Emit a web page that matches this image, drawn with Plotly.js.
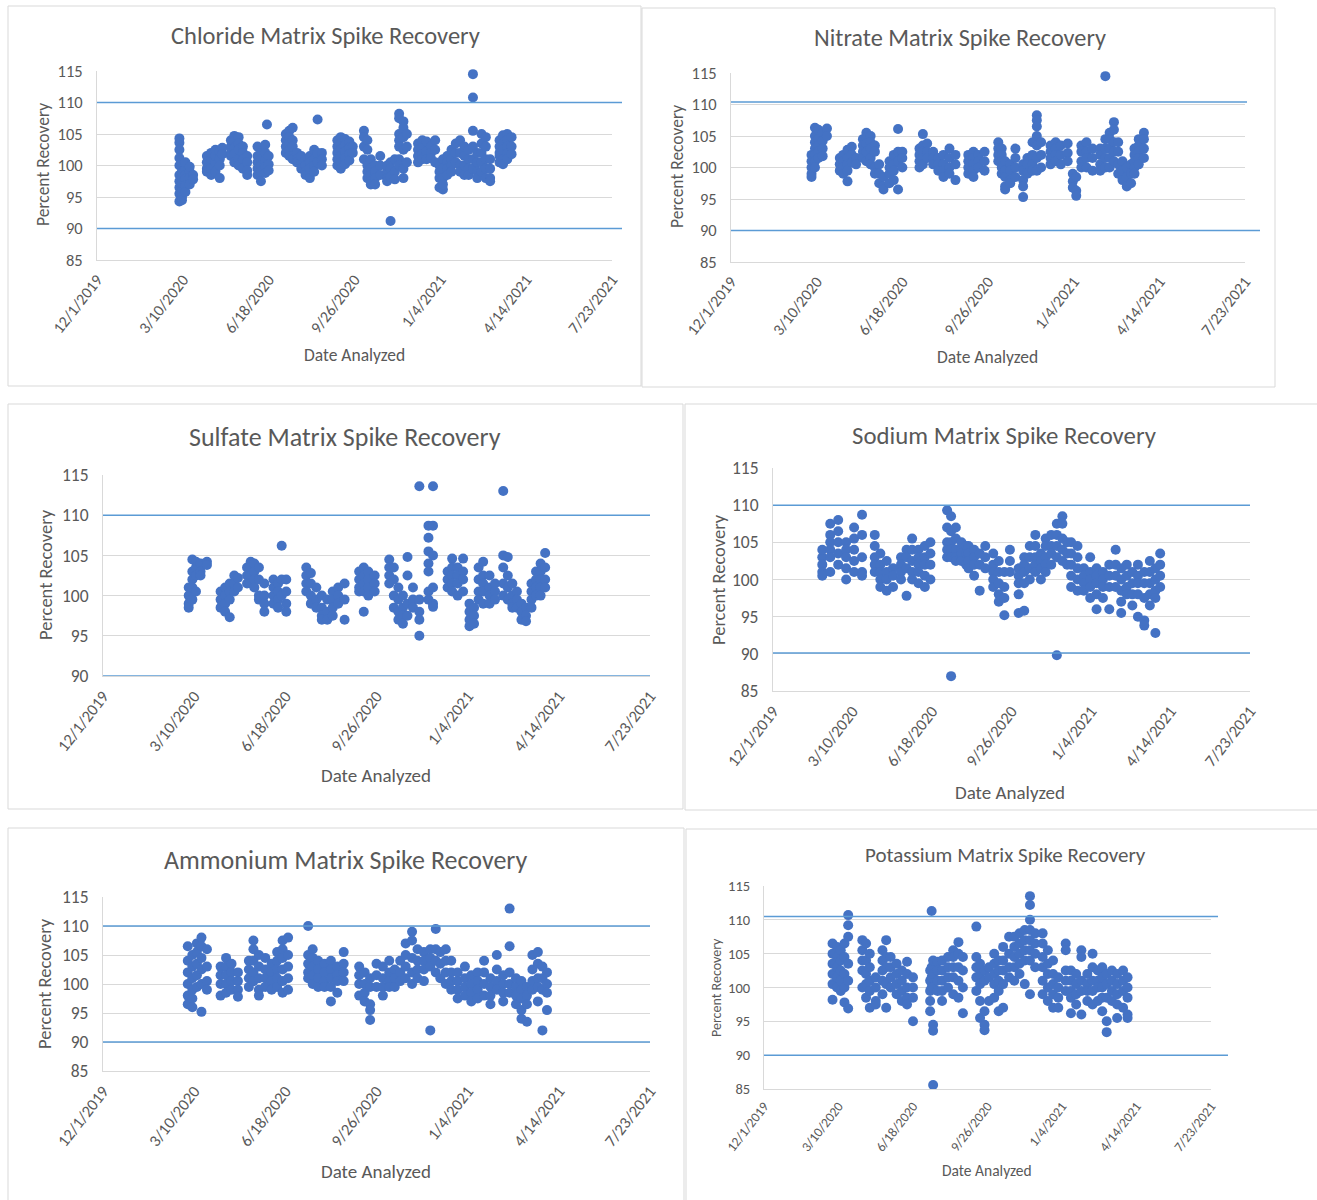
<!DOCTYPE html>
<html><head><meta charset="utf-8">
<script src="https://cdn.plot.ly/plotly-3.0.1.min.js"></script>
<style>html,body{margin:0;padding:0;background:#fff}#chart{width:1317px;height:1200px}</style>
</head><body><div id="chart"></div>
<script>
const tickDates = ['2019-12-01','2020-03-10','2020-06-18','2020-09-26','2021-01-04','2021-04-14','2021-07-23'];
const tickLabels = ['12/1/2019','3/10/2020','6/18/2020','9/26/2020','1/4/2021','4/14/2021','7/23/2021'];

const chlorideDates = ['2020-03-06','2020-03-09','2020-03-13','2020-03-18','2020-03-22','2020-04-07','2020-04-12','2020-04-17','2020-04-22','2020-04-25','2020-05-05','2020-05-09','2020-05-14','2020-05-19','2020-05-24','2020-06-05','2020-06-09','2020-06-14','2020-06-16','2020-06-18','2020-07-08','2020-07-12','2020-07-16','2020-07-21','2020-07-26','2020-07-31','2020-08-05','2020-08-10','2020-08-14','2020-08-19','2020-09-06','2020-09-10','2020-09-15','2020-09-20','2020-09-24','2020-10-07','2020-10-11','2020-10-15','2020-10-20','2020-10-26','2020-11-03','2020-11-07','2020-11-12','2020-11-17','2020-11-22','2020-11-26','2020-12-09','2020-12-14','2020-12-19','2020-12-24','2020-12-29','2021-01-03','2021-01-07','2021-01-12','2021-01-17','2021-01-22','2021-01-27','2021-02-01','2021-02-06','2021-02-11','2021-02-16','2021-02-21','2021-02-26','2021-03-03','2021-03-14','2021-03-18','2021-03-23','2021-03-28'];
const chlorideValues = [[104.3,103.6,102.5,101.2,100,98.5,97.5,96.5,95.5,94.3],[99,98,97,96,95,94.5,97.2,98.8],[99.5,98.5,97.8,96.8,95.8,100.5],[99,98,97,99.8],[98.5,97.8],[99.5,100.5,101.5,99],[100,101,102,98.5,99.5],[100.5,101.5,102.5,99],[101,102.3,100,98],[102.8,101.8],[103,104,102,101.5],[104.7,103.8,102.8,101.8,100.5],[104.5,103.5,102.5,101,100],[103,102,101,99.5],[101.5,100.5,99.2,98.5],[103,101.5,100.5,99.5,98.5],[102,101,100,99,97.5],[103.3,102,100.8,99.8,98.8],[106.5],[101.5,100.2,99.2],[104,105,103,102],[105.5,104.5,103.5,102.5,101.5],[106,104,103,101],[102,101,100.5],[100.5,101.5,99.5],[101,100,99,98.5],[101.5,100.5,99.5,98],[102.5,101,100,99],[107.3,102,100.5],[102,101,100],[104,103,102,101,100],[104.5,103.5,102.5,101.5,100.5,99.5],[104.2,103.2,102.2,101.2,100.2],[103.8,102.8,101.8,100.8],[103,102],[105.5,104.5,103,101],[104,102.5,100,99,98],[101,99.5,98.5,97.5,97],[100,99,98,97],[101.5,100,98.5],[99,98,97.5,100],[100.5,99.5,98.2,91.2],[101,99,97.8],[108.2,107.5,105,104,103,101,100],[107,106,104.5,102.5,99.5,98],[105,103,100.5],[103.5,102.5,101.5,100.5],[104,102.8,101.8,101],[103.8,102.2,101],[103,102,101.2],[104,102.5,100.5],[100,99,98,96.5],[101,99.5,98,96.2,97],[101.5,100.5,99.5,98.5],[102.5,101,100,99],[103.5,102,100.5],[104,102,100,99],[103,101.5,100,98.5],[102.5,101,99.5,98.5],[114.5,110.8,105.5,103,101,99.5],[102,100.5,99,98],[105,103.5,102,100.5,99],[104.5,103,101,99.5,98],[101,99.5,98,97.5],[104,103,102,101.5,100.5],[104.8,103.5,102.5,101,100.2],[105,104,103,102,101],[104.5,103,101.8]];

const nitrateDates = ['2020-03-04','2020-03-08','2020-03-12','2020-03-17','2020-03-22','2020-04-06','2020-04-10','2020-04-15','2020-04-20','2020-04-25','2020-05-03','2020-05-07','2020-05-12','2020-05-17','2020-05-22','2020-05-27','2020-06-03','2020-06-08','2020-06-13','2020-06-18','2020-07-08','2020-07-12','2020-07-17','2020-07-24','2020-07-30','2020-08-05','2020-08-12','2020-08-19','2020-09-03','2020-09-09','2020-09-15','2020-09-22','2020-10-08','2020-10-12','2020-10-16','2020-10-22','2020-10-28','2020-11-06','2020-11-11','2020-11-17','2020-11-22','2020-11-27','2020-12-08','2020-12-14','2020-12-20','2020-12-28','2021-01-03','2021-01-07','2021-01-13','2021-01-19','2021-01-26','2021-02-04','2021-02-10','2021-02-15','2021-02-20','2021-02-25','2021-03-02','2021-03-07','2021-03-12','2021-03-16','2021-03-21','2021-03-27'];
const nitrateValues = [[101,100,99,98.5,102],[106.3,105,104,103,102,101,100],[106,104.5,103.5,102.5,101.5],[105.5,104.2,103,101.8],[106.2,105],[101.5,100.5,99.5],[102,101,100,99],[102.8,101.5,100.5,99.5,97.8],[103.3,102,100.8],[101.5,100.5],[104.5,103.5,102.5,101.5],[105.5,104.8,103.8,102.5,101],[105,104,103,101.5,100.5],[103.5,102.5,100,99],[100.5,99,97.5],[98.5,97,96.5],[101,100,99,97.5],[102,100.5,99.5,98],[106.1,102.5,101,96.5],[102.5,101.5,100],[103,102,101,100],[105.3,103.5,102.5,101.5,100.5],[103.8,102.5,101.5],[102.5,101.5,100.5],[101.5,100.5,99.5],[102,100.5,99.5,98.5],[103,101.5,100,99],[102,100.5,98],[102,101,100,99],[102.5,101.5,100.5,99.5,98.5],[102,101,100],[102.5,101,99.5],[104,103,102,101],[103,102,101,100,99],[101,99.5,98.5,97,96.5],[100.5,99.5,98,97.5],[103,101.5,100,98.5],[100.5,99.5,98,97,95.3],[101.5,100.5,99],[104,102,100.5,99.5],[108.3,107.5,106.5,105,103.5,101.5,99.5],[104,102,100],[103.5,102.5,101.5,100.5],[104,103,102,101],[103.5,102,100.5],[103.8,102.3,101],[99,97.8,96.8],[98.5,96.3,95.5],[103.5,102.5,101,100],[104,102.5,101.5,100],[103,101.5,99.5],[103,102,100.5,99.5],[114.5,104.5,103,101.5,100],[105.5,104.5,103,101.5,100],[107.2,106,104,102.5,101],[104,102.5,100.5,99],[101,99.5,98],[100,98.5,97],[100.5,99,97.5],[103,102,101,100,99],[104.5,103.5,102.5,101.5,100.5],[105.5,104.5,103,101.5]];

const sulfateDates = ['2020-03-04','2020-03-08','2020-03-12','2020-03-17','2020-03-24','2020-04-08','2020-04-13','2020-04-18','2020-04-23','2020-04-27','2020-05-07','2020-05-11','2020-05-15','2020-05-20','2020-05-26','2020-06-05','2020-06-10','2020-06-14','2020-06-19','2020-07-11','2020-07-16','2020-07-22','2020-07-28','2020-08-03','2020-08-09','2020-08-15','2020-08-22','2020-09-07','2020-09-12','2020-09-17','2020-09-24','2020-10-10','2020-10-15','2020-10-20','2020-10-25','2020-10-30','2020-11-05','2020-11-12','2020-11-22','2020-11-27','2020-12-13','2020-12-18','2020-12-24','2020-12-30','2021-01-06','2021-01-11','2021-01-16','2021-01-21','2021-01-28','2021-02-03','2021-02-12','2021-02-17','2021-02-22','2021-02-27','2021-03-04','2021-03-09','2021-03-15','2021-03-20','2021-03-25','2021-03-30'];
const sulfateValues = [[101,100,99,98.5],[104.5,103,102,101,99.5],[104.2,103.5,102.5,100.5],[104,103,102.5],[104.2,103.8],[100.5,99.5,98.5],[101,100,99,98],[101.5,100.5,99.5,97.3],[102.5,101.5,100.5],[102.2,101],[103.5,102.5,101.5],[104.2,103.5,102.5,101.5],[104,103,102,101],[103.5,102,100,99.5],[101.5,100,99,98],[102,101,100,99],[101.5,100.5,99.5,98.5],[106.2,102,100],[102,100.5,99,98],[103.5,102.5,101.5,100.5],[102.8,101.5,100,99],[101,99.5,98.5],[100,98.5,97.5,97],[99.5,98,97],[100.5,99.5,98.5,97.5],[101,100,99],[101.5,99.5,97],[103,102,101,100.5],[103.5,102.5,101.5,100.5,98],[103,102,101,100],[102.5,101.5,100.5],[104.5,103.5,102.5,101.5],[103.5,102,100,98.5],[101,99.5,98,97],[100,98.5,97.5,96.5],[104.8,102.5,99,97.5],[101,99.5,98.5],[113.6,99.5,98,97,95],[108.7,107.2,105.5,104,103,100.5,99.5],[113.6,108.7,105,101,99,98.6],[103,102,101],[104.6,103.5,102.5,101.5,100.5],[103.5,102.5,101.5,100],[104.6,103,102,100.5],[99,98,97,96.2],[98.5,97.5,96.5],[103.5,102,100.5,99.5],[104.2,102.5,101.5,100.5,99],[102.5,101,100,99],[101.5,100.5,99.5],[113,105,103.5,101.5,100],[104.8,102.5,101,99.5],[101.5,100,99,98.5],[100.5,99.5,98.5],[99,98,97],[98.5,97.5,96.8],[101.5,100.5,99.5,98.5],[103,102,101,100],[104,103,102,101,100],[105.3,103.5,102,101]];

const sodiumDates = ['2020-02-01','2020-02-11','2020-02-21','2020-03-02','2020-03-12','2020-03-22','2020-04-07','2020-04-14','2020-04-22','2020-04-30','2020-05-10','2020-05-17','2020-05-24','2020-06-01','2020-06-09','2020-06-16','2020-07-07','2020-07-12','2020-07-18','2020-07-25','2020-07-31','2020-08-03','2020-08-10','2020-08-17','2020-08-24','2020-09-03','2020-09-10','2020-09-17','2020-09-24','2020-10-05','2020-10-12','2020-10-19','2020-10-26','2020-11-02','2020-11-08','2020-11-15','2020-11-22','2020-11-29','2020-12-05','2020-12-10','2020-12-18','2020-12-26','2021-01-03','2021-01-11','2021-01-19','2021-01-27','2021-02-04','2021-02-11','2021-02-18','2021-02-25','2021-03-04','2021-03-12','2021-03-19','2021-03-26','2021-04-01'];
const sodiumValues = [[103,102,101,100.5,104],[107.5,106,105,104,103,101],[108,106.5,105,103.5,102],[105,104,103,101.5,100],[107,105.5,104,102.5,101],[108.7,106,103,101,100.5],[106,104.5,103,102,101],[103.5,102,101,100,99],[102.5,101,100,98.5],[101.5,100.5,99],[103,102,101,100],[104,103,101.5,97.8],[105.5,104,102.5,101,100],[104,103,102,101,99.5],[104.5,103,102,100.5,99],[105,103.5,102,100],[109.3,107,105,104,103],[108.5,106.5,105,104,103,87],[107,105.5,104,103,102.5],[105,104,103.5,102.5],[104.5,103.5,102],[104.5,103.5,102.5,101.5],[104,103,102,100.5],[103.5,102,98.5],[104.5,103,101.5],[103.5,102,101,100,99],[102.5,101,99.5,98,97],[101,99,97.5,95.2],[104,102.5,101],[101.5,100.5,99.5,98,95.5],[103,102,101,99.5,95.8],[104.5,103,101.5,100],[106,104.5,103,102,101],[103.5,102.5,101.5,100],[105.5,104.5,103,102,101],[106,104.5,103.5,102],[107.5,106,104.5,103,89.8],[108.5,107.5,105.5,104,102.5],[105,103.5,102],[105,103.5,102,100.5,99],[104.5,103,101.5,100,98.5],[101.5,100.5,99.5,98.5],[103,101,100,99,97.5],[101.5,100.5,99.5,98,96],[101,100,99,97.5],[102,100.5,99,96],[104,102,100.5,99],[101.5,100,98.5,97,95.5],[102,100.5,99,98],[101,99.5,98,96.5],[102,100.5,99.5,98,95],[101,99.5,97.5,94.5,93.8],[102.5,101,99.5,98,96.5],[101.5,100,98.5,97.5,92.8],[103.5,102,100.5,99]];

const ammoniumDates = ['2020-03-03','2020-03-08','2020-03-13','2020-03-18','2020-03-24','2020-04-08','2020-04-14','2020-04-20','2020-04-27','2020-05-09','2020-05-14','2020-05-20','2020-05-27','2020-06-03','2020-06-09','2020-06-15','2020-06-21','2020-07-13','2020-07-18','2020-07-24','2020-07-31','2020-08-07','2020-08-14','2020-08-21','2020-09-07','2020-09-13','2020-09-19','2020-09-26','2020-10-03','2020-10-10','2020-10-16','2020-10-22','2020-10-28','2020-11-04','2020-11-10','2020-11-17','2020-11-24','2020-11-30','2020-12-05','2020-12-11','2020-12-17','2020-12-24','2021-01-01','2021-01-08','2021-01-15','2021-01-22','2021-01-29','2021-02-05','2021-02-12','2021-02-19','2021-02-26','2021-03-04','2021-03-10','2021-03-16','2021-03-22','2021-03-27','2021-04-01'];
const ammoniumValues = [[106.5,104,102,100,98,96.5],[105,103,101,99,97.5,96],[107,105.5,103.5,101.5,99.5],[108,106.5,104.5,102.5,100,95.2],[106,103,100.5,99],[103,101.5,100,98],[104.5,103,101.5,100,98.5],[103.5,102,100.5,99],[102,100.5,99,97.8],[104,102.5,101,99.5],[107.5,106,104,102,100.5],[105,103,101,99,98],[104.5,102.5,101,99.5],[103.5,102,100.5,99],[105.5,104,102.5,101,99.5],[107.5,106,104.5,102.5,100.5,98.5],[108,105,103,101,99],[110,105,103.5,102,101],[106,104.5,103,101.5,100],[104,102.5,101,99.5],[103.5,102,100.5,99.5],[104,102.5,101,99.5,97],[103,101.5,100.5,98.5],[105.5,103.5,102,100.5],[103,101.5,100,98],[102,100,98.5,97],[101,99.5,96.5,95.5,93.8],[103.5,101.5,99.5],[103,101,99.5,98],[104,102,100.5,99.5],[102.5,101,99.5],[104,102,100.5],[107,105,103,101],[109,107.5,104.5,102,100],[106,104,102.5,101],[105.5,104,102.5,100.5],[106,104.5,103,92],[109.5,106,104,102],[105.5,103.5,101],[106,104,102,100],[104,102,100.5,99],[102,100.5,99,97.5],[103,101,99.5,98],[101.5,100,98.5,97],[102,100.5,99,97.5],[104,102,100,98],[101,99.5,98,96.5],[105,102.5,100.5,99],[101.5,100,98.5,97],[113,106.5,102,100,98.5],[101,99.5,98,96.5],[100.5,99,97.5,95.5,94],[99.5,98,96.5,93.5],[105,102.5,100.5,99],[105.5,103.5,101,99.5,97],[103,101,99,92],[102,100,98.5,95.5]];

const potassiumDates = ['2020-03-02','2020-03-08','2020-03-13','2020-03-18','2020-03-23','2020-04-11','2020-04-16','2020-04-21','2020-04-29','2020-05-08','2020-05-13','2020-05-19','2020-05-27','2020-06-03','2020-06-10','2020-06-18','2020-07-11','2020-07-13','2020-07-15','2020-07-21','2020-07-27','2020-08-04','2020-08-11','2020-08-18','2020-08-24','2020-09-11','2020-09-16','2020-09-22','2020-09-28','2020-10-05','2020-10-11','2020-10-17','2020-10-25','2020-11-01','2020-11-08','2020-11-15','2020-11-22','2020-11-29','2020-12-09','2020-12-16','2020-12-23','2020-12-30','2021-01-09','2021-01-16','2021-01-23','2021-01-30','2021-02-07','2021-02-14','2021-02-21','2021-02-27','2021-03-05','2021-03-12','2021-03-19','2021-03-27','2021-04-02'];
const potassiumValues = [[106.5,105,103.5,102,100.5,98.2],[106,104.5,103,101.5,100],[105.5,104,102.5,101,99.5],[106.5,104.5,102,100,97.8],[110.7,109.2,107.5,103.5,101,96.9],[107,105.5,104,102.5,100],[106.5,104,102,100.5,98.5],[105,103,101,99.5,97],[101.5,100,98,97.5],[105.5,104,102.5,101,99],[107,104.5,103,100.5,97],[104.5,103,101.5,100],[103.5,102,100.5,99],[102.5,101,99.5,98],[103.8,102,100,98.5,97.5],[101.5,100,98.5,95],[102.5,101,99.5,98,96.5],[111.3,103,101.5,100],[104,102,100,94.5,93.6,85.6],[103.8,102.5,101,99.5],[104,102.5,101,99.5,98],[104.5,103,101.5,100],[105.5,104.5,103,101.5,99],[106.7,105,103,101,98.5],[104.5,102.5,100,96.2],[109,104.5,103,101.5,99.5],[103.5,102,100.5,98,95.5],[102.5,101,96.5,94.5,93.7],[103,101.5,98],[105,103.5,102,100.5,98.5],[104,102.5,101,99.5,96.5],[106,104,102.5,100.5,97],[107.5,105,103,101.5],[107.5,106,104.5,103,101],[108,106.5,105,103.5,102],[108.5,107,105.5,104,100.5],[113.5,112.2,110,108.5,107,105.5,104,99],[108,106.5,105,103],[108,106.5,104.5,103,101,99],[105.5,103.5,102,100,98],[104,102,100.5,99,97],[101.5,100,98.5,97],[106.5,105.5,102.5,101,99.5],[102.5,101,99.5,98.5,96.2],[102,100.5,99,97.5],[105.5,104.5,101,99.5,96],[102,100.5,99.5,98],[105,103,101,99.5,97.5],[102.5,101,100,98],[103,101.5,100,98.5,96.5],[102,100.5,98.5,95,93.4],[102.5,101,99.5,98],[102,100.5,99,97.5,95.5],[102.5,101,99.5,97],[101.5,100,98.5,96,95.5]];

const W = 1317, H = 1200;
const FONT = 'Carlito, Calibri, Lato, "Open Sans", sans-serif';
const TXT = '#595959';
const GRID = '#d9d9d9';
const MARK = '#4472c4';
const REFLINE = '#5b9bd5';

const panels = [
  {title:'Chloride Matrix Spike Recovery', dates:chlorideDates, vals:chlorideValues, box:[8,6,641,386], plot:[97,71,612,260], yr:[85,115], hi:110, lo:90, hiX:622, loX:622, t:[325,36,24.5], yt:[43,165,17.5], xt:[354,355,17.5], ytf:16.5, xtf:16},
  {title:'Nitrate Matrix Spike Recovery', dates:nitrateDates, vals:nitrateValues, box:[642,8,1275,387], plot:[731,73,1245,262], yr:[85,115], hi:110.4, lo:90, hiX:1247, loX:1260, t:[960,38,24.3], yt:[677,167,17.5], xt:[988,357,17.5], ytf:16.5, xtf:16},
  {title:'Sulfate Matrix Spike Recovery', dates:sulfateDates, vals:sulfateValues, box:[8,404,683,809], plot:[103,475,650,676], yr:[90,115], hi:110, lo:90, hiX:650, loX:650, t:[345,437,26], yt:[45,575,18.5], xt:[376,776,19], ytf:17.5, xtf:16.5},
  {title:'Sodium Matrix Spike Recovery', dates:sodiumDates, vals:sodiumValues, box:[685,404,1330,810], plot:[773,468,1250,691], yr:[85,115], hi:110, lo:90.1, hiX:1250, loX:1250, t:[1004,436,24.8], yt:[718,580,18.5], xt:[1010,792,19], ytf:17.5, xtf:16.5},
  {title:'Ammonium Matrix Spike Recovery', dates:ammoniumDates, vals:ammoniumValues, box:[8,828,684,1215], plot:[103,897,650,1071], yr:[85,115], hi:110, lo:90, hiX:650, loX:650, t:[346,860,26], yt:[45,984,18.5], xt:[376,1171,19], ytf:17.5, xtf:16.5},
  {title:'Potassium Matrix Spike Recovery', dates:potassiumDates, vals:potassiumValues, box:[686,829,1330,1215], plot:[764,886,1211,1089], yr:[85,115], hi:110.5, lo:90, hiX:1218, loX:1228, t:[1005,855,21], yt:[716,988,14], xt:[987,1170,15.5], ytf:14.5, xtf:13.5}
];

const px = x => x / W;
const py = y => 1 - y / H;

const data = [];
const layout = {
  width: W, height: H, autosize: false,
  margin: {l:0, r:0, t:0, b:0},
  paper_bgcolor: '#ffffff', plot_bgcolor: '#ffffff',
  showlegend: false,
  font: {family: FONT, color: TXT},
  shapes: [], annotations: []
};

panels.forEach((p, i) => {
  const n = i + 1;
  const xs = [], ys = [];
  p.dates.forEach((d, k) => p.vals[k].forEach(v => { xs.push(d); ys.push(v); }));
  data.push({
    type: 'scatter', mode: 'markers', x: xs, y: ys,
    xaxis: 'x' + n, yaxis: 'y' + n,
    marker: {color: MARK, size: 10},
    cliponaxis: false, hoverinfo: 'x+y'
  });
  const [L, T, R, B] = p.plot;
  layout['xaxis' + n] = {
    domain: [px(L), px(R)], anchor: 'y' + n, type: 'date',
    range: [tickDates[0], tickDates[tickDates.length - 1]],
    tickmode: 'array', tickvals: tickDates, ticktext: tickLabels,
    tickangle: -52, ticks: '', ticklabelstandoff: 3,
    tickfont: {family: FONT, size: p.xtf, color: TXT},
    showgrid: false, zeroline: false,
    showline: true, linecolor: GRID, linewidth: 1, mirror: false
  };
  layout['yaxis' + n] = {
    domain: [py(B), py(T)], anchor: 'x' + n,
    range: p.yr, tickmode: 'linear', tick0: 85, dtick: 5,
    ticks: '', ticklabelstandoff: 10,
    tickfont: {family: FONT, size: p.ytf, color: TXT},
    showgrid: true, gridcolor: GRID, gridwidth: 1, zeroline: false,
    showline: true, linecolor: GRID, linewidth: 1
  };
  const [bx0, by0, bx1, by1] = p.box;
  layout.shapes.push({type:'rect', xref:'paper', yref:'paper', x0:px(bx0), x1:px(bx1), y0:py(by1), y1:py(by0), line:{color:GRID, width:1}, layer:'below'});
  layout.shapes.push({type:'line', xref:'paper', yref:'y' + n, x0:px(L), x1:px(p.hiX), y0:p.hi, y1:p.hi, line:{color:REFLINE, width:1.5}, layer:'above'});
  layout.shapes.push({type:'line', xref:'paper', yref:'y' + n, x0:px(L), x1:px(p.loX), y0:p.lo, y1:p.lo, line:{color:REFLINE, width:1.5}, layer:'above'});
  layout.annotations.push({text:p.title, xref:'paper', yref:'paper', x:px(p.t[0]), y:py(p.t[1]), xanchor:'center', yanchor:'middle', showarrow:false, font:{family:FONT, size:p.t[2], color:TXT}});
  layout.annotations.push({text:'Percent Recovery', xref:'paper', yref:'paper', x:px(p.yt[0]), y:py(p.yt[1]), xanchor:'center', yanchor:'middle', textangle:-90, showarrow:false, font:{family:FONT, size:p.yt[2], color:TXT}});
  layout.annotations.push({text:'Date Analyzed', xref:'paper', yref:'paper', x:px(p.xt[0]), y:py(p.xt[1]), xanchor:'center', yanchor:'middle', showarrow:false, font:{family:FONT, size:p.xt[2], color:TXT}});
});

Plotly.newPlot('chart', data, layout, {displayModeBar: false, staticPlot: true});
</script>
</body></html>
